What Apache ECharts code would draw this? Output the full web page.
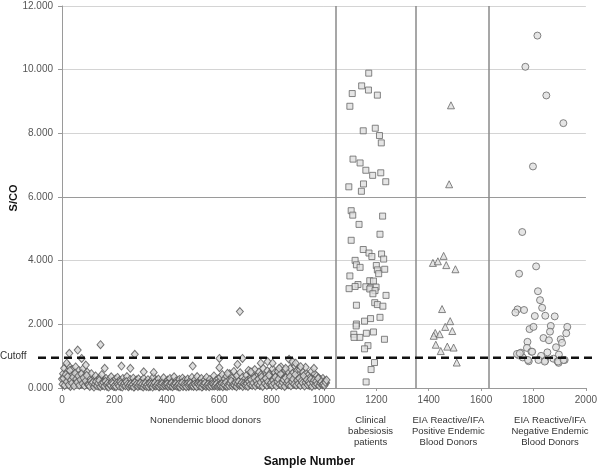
<!DOCTYPE html>
<html>
<head>
<meta charset="utf-8">
<script src="https://cdn.jsdelivr.net/npm/echarts@6/dist/echarts.min.js"></script>
<style>html,body{margin:0;padding:0;background:#fff;}#c{width:600px;height:468px;}</style>
</head>
<body>
<div id="c"></div>
<script>
// ---- data ----
var yTicks = [0, 2, 4, 6, 8, 10, 12];
var xTicks = [0, 200, 400, 600, 800, 1000, 1200, 1400, 1600, 1800, 2000];
var cutoff = 0.95;
var separators = [1044, 1350, 1630];
var groupNames = [
  'Nonendemic blood donors',
  'Clinical\nbabesiosis\npatients',
  'EIA Reactive/IFA\nPositive Endemic\nBlood Donors',
  'EIA Reactive/IFA\nNegative Endemic\nBlood Donors'
];
var groupLabelX = [548, 1178, 1475, 1863];

// nonendemic: readings at sample numbers 0,4,8,... (set A) and 2,6,10,... (set B)
var nonendemicStep = 4;
var nonendemicA = [
  0.28,0.45,0.62,0.18,0.35,0.52,0.71,0.24,0.05,0.40,0.58,0.30,0.15,0.66,0.42,0.22,0.55,0.33,0.12,0.48,0.60,0.26,0.38,0.17,0.50,
  0.20,0.34,0.12,0.45,0.08,0.28,0.16,0.38,0.10,0.25,0.06,0.32,0.18,0.42,0.09,0.22,0.14,0.30,0.05,0.19,0.27,0.11,0.35,0.08,0.21,
  0.15,0.28,0.07,0.33,0.12,0.24,0.05,0.18,0.30,0.10,0.22,0.14,0.36,0.06,0.20,0.27,0.09,0.16,0.31,0.04,0.19,0.25,0.11,0.29,0.08,
  0.17,0.23,0.06,0.30,0.13,0.20,0.08,0.26,0.15,0.05,0.22,0.11,0.34,0.07,0.18,0.24,0.10,0.28,0.04,0.16,0.21,0.09,0.32,0.13,0.19,
  0.08,0.25,0.14,0.30,0.06,0.20,0.12,0.35,0.09,0.22,0.17,0.04,0.27,0.11,0.19,0.31,0.07,0.24,0.15,0.10,0.28,0.05,0.21,0.13,0.33,
  0.18,0.09,0.26,0.14,0.36,0.07,0.22,0.12,0.30,0.05,0.19,0.25,0.10,0.33,0.16,0.08,0.27,0.13,0.21,0.06,0.38,0.15,0.24,0.11,0.29,
  0.20,0.34,0.09,0.42,0.16,0.28,0.06,0.37,0.13,0.24,0.45,0.10,0.31,0.18,0.52,0.08,0.26,0.39,0.14,0.22,0.48,0.11,0.33,0.19,0.27,
  0.15,0.40,0.24,0.55,0.10,0.32,0.46,0.18,0.28,0.58,0.13,0.36,0.22,0.50,0.08,0.42,0.30,0.62,0.16,0.38,0.26,0.54,0.12,0.44,0.34,
  0.20,0.60,0.28,0.48,0.14,0.40,0.52,0.24,0.36,0.66,0.18,0.44,0.30,0.56,0.10,0.38,0.50,0.22,0.62,0.32,0.46,0.16,0.70,0.34,0.54,
  0.26,0.42,0.58,0.18,0.36,0.50,0.12,0.30,0.46,0.22,0.40,0.08,0.34,0.52,0.20,0.28,0.44,0.14,0.38,0.24,0.32,0.10,0.26,0.18,0.30,
  0.12,0.22,0.16
];
var nonendemicB = [
  0.12,0.30,0.08,0.42,0.20,0.36,0.10,0.55,0.25,0.15,0.34,0.06,0.46,0.28,0.18,0.38,0.09,0.26,0.44,0.14,0.32,0.07,0.22,0.40,0.11,
  0.10,0.05,0.22,0.14,0.18,0.03,0.12,0.20,0.07,0.15,0.24,0.04,0.13,0.09,0.17,0.06,0.21,0.11,0.15,0.03,0.12,0.08,0.18,0.14,0.05,
  0.09,0.04,0.16,0.11,0.06,0.19,0.13,0.03,0.10,0.15,0.07,0.20,0.12,0.04,0.09,0.14,0.06,0.11,0.03,0.17,0.08,0.13,0.05,0.10,0.15,
  0.06,0.12,0.03,0.09,0.15,0.05,0.11,0.04,0.14,0.08,0.12,0.03,0.10,0.16,0.06,0.09,0.13,0.04,0.11,0.07,0.14,0.05,0.10,0.08,0.12,
  0.13,0.05,0.10,0.07,0.15,0.04,0.11,0.08,0.14,0.06,0.09,0.12,0.03,0.10,0.16,0.05,0.12,0.08,0.04,0.13,0.07,0.11,0.15,0.06,0.09,
  0.05,0.12,0.08,0.04,0.14,0.10,0.06,0.13,0.03,0.11,0.08,0.15,0.05,0.09,0.12,0.04,0.10,0.07,0.14,0.11,0.06,0.09,0.13,0.05,0.08,
  0.10,0.06,0.14,0.04,0.12,0.08,0.18,0.05,0.11,0.07,0.15,0.22,0.06,0.12,0.09,0.16,0.04,0.13,0.20,0.08,0.11,0.17,0.05,0.14,0.10,
  0.07,0.14,0.05,0.20,0.11,0.26,0.08,0.16,0.32,0.06,0.22,0.12,0.28,0.09,0.18,0.35,0.05,0.24,0.14,0.30,0.08,0.20,0.40,0.11,0.16,
  0.09,0.25,0.14,0.34,0.06,0.20,0.28,0.12,0.44,0.08,0.18,0.26,0.05,0.32,0.15,0.22,0.10,0.36,0.07,0.19,0.28,0.12,0.42,0.09,0.24,
  0.13,0.30,0.08,0.22,0.16,0.38,0.06,0.18,0.26,0.10,0.20,0.14,0.28,0.05,0.17,0.24,0.09,0.21,0.12,0.30,0.07,0.15,0.20,0.10,0.13,
  0.08,0.18,0.25
];
// nonendemic higher readings [sample, S/CO]
var nonendemicHigh = [
  [60,1.19],[28,1.09],[147,1.36],[75,0.93],[278,1.06],[18,0.78],[601,0.93],[689,0.93],[679,2.40],
  [499,0.69],[227,0.69],[261,0.62],[601,0.64],[670,0.74],[632,0.46],[163,0.62],[91,0.72],[312,0.51],
  [350,0.49],[721,0.51],[867,0.90],[880,0.83],[892,0.78],[759,0.78],[785,0.83],[804,0.78],[829,0.62],
  [854,0.62],[930,0.65],[962,0.62],[911,0.67]
];
var clinical = [
  [1171,9.89],[1144,9.49],[1170,9.36],[1108,9.25],[1204,9.20],[1099,8.85],[1150,8.08],[1196,8.16],
  [1212,7.93],[1219,7.70],[1111,7.19],[1138,7.07],[1160,6.84],[1186,6.68],[1217,6.76],[1236,6.48],
  [1095,6.32],[1151,6.41],[1143,6.18],[1104,5.57],[1110,5.43],[1224,5.40],[1134,5.14],[1214,4.83],
  [1104,4.64],[1150,4.35],[1172,4.24],[1183,4.13],[1220,4.21],[1228,4.05],[1119,4.01],[1124,3.87],
  [1138,3.79],[1200,3.85],[1204,3.71],[1232,3.73],[1209,3.59],[1099,3.52],[1175,3.37],[1189,3.36],
  [1130,3.25],[1119,3.19],[1096,3.12],[1160,3.18],[1178,3.15],[1199,3.17],[1175,3.11],[1195,3.06],
  [1187,2.96],[1237,2.91],[1124,2.60],[1194,2.68],[1204,2.62],[1225,2.57],[1214,2.22],[1178,2.18],
  [1155,2.10],[1124,2.01],[1123,1.95],[1114,1.69],[1137,1.59],[1162,1.72],[1189,1.76],[1231,1.53],
  [1115,1.59],[1168,1.33],[1155,1.23],[1193,0.80],[1180,0.58],[1161,0.19]
];
var positiveEndemic = [
  [1485,8.88],[1478,6.40],[1457,4.15],[1416,3.93],[1435,3.98],[1467,3.86],[1502,3.73],[1451,2.48],
  [1482,2.10],[1463,1.92],[1490,1.79],[1425,1.73],[1442,1.69],[1419,1.64],[1427,1.36],[1446,1.16],
  [1471,1.30],[1495,1.27],[1507,0.80]
];
var negativeEndemic = [
  [1815,11.07],[1769,10.09],[1849,9.19],[1914,8.32],[1798,6.96],[1757,4.90],[1745,3.59],[1810,3.82],
  [1817,3.04],[1825,2.76],[1833,2.52],[1739,2.47],[1731,2.37],[1764,2.45],[1805,2.26],[1845,2.27],
  [1881,2.25],[1785,1.85],[1800,1.92],[1866,1.95],[1929,1.92],[1863,1.77],[1838,1.57],[1925,1.72],
  [1859,1.50],[1904,1.53],[1777,1.45],[1909,1.42],[1775,1.26],[1792,1.14],[1886,1.28],[1853,1.12],
  [1752,1.11],[1743,1.03],[1759,0.96],[1829,1.01],[1897,1.05],[1845,0.86],[1876,0.92],[1782,0.84],
  [1892,0.84],[1919,0.88],[1896,0.79],[1819,0.88],[1737,1.07],[1748,1.09],[1779,0.88],[1843,0.83],
  [1894,0.83],[1915,0.88],[1795,1.14]
];

// ---- chart ----
var FONT = '"Liberation Sans", Arial, sans-serif';
var nonendemic = nonendemicA.map(function (v, i) { return [i * nonendemicStep, v]; })
  .concat(nonendemicB.map(function (v, i) { return [i * nonendemicStep + 2, v]; }))
  .concat(nonendemicHigh);
var mk = { color: '#dedede', borderColor: '#666', borderWidth: 1 };
var mkD = { color: '#d6d6d6', borderColor: '#555', borderWidth: 1 };

var chart = echarts.init(document.getElementById('c'), null, { renderer: 'canvas' });
var option = {
  animation: false,
  backgroundColor: '#fff',
  grid: { left: 62, right: 12, top: 6, bottom: 80, containLabel: false },
  xAxis: {
    type: 'value', min: xTicks[0], max: xTicks[xTicks.length - 1], interval: 200,
    axisLine: { lineStyle: { color: '#9a9a9a', width: 1 } },
    axisTick: { show: true, length: 3, lineStyle: { color: '#9a9a9a' } },
    splitLine: { show: false },
    axisLabel: { color: '#555', fontSize: 10, fontFamily: FONT, margin: 7,
      formatter: function (v) { return String(v); } }
  },
  yAxis: {
    type: 'value', min: yTicks[0], max: yTicks[yTicks.length - 1], interval: 2,
    axisLine: { show: true, lineStyle: { color: '#9a9a9a', width: 1 } },
    axisTick: { show: true, length: 4, lineStyle: { color: '#9a9a9a' } },
    splitLine: { show: true, lineStyle: { color: '#d4d4d4', width: 1 } },
    axisLabel: { color: '#555', fontSize: 10, fontFamily: FONT, margin: 9,
      formatter: function (v) { return v.toFixed(3); } }
  },
  series: [
    { type: 'scatter', name: 'Nonendemic', symbol: 'diamond', symbolSize: [7, 8], data: nonendemic, itemStyle: mkD, z: 3,
      markLine: { silent: true, symbol: 'none', label: { show: false },
        lineStyle: { color: '#9a9a9a', width: 1, type: 'solid' },
        data: [{ yAxis: 6 }] } },
    { type: 'scatter', name: 'Clinical', symbol: 'rect', symbolSize: 6, data: clinical, itemStyle: mk, z: 4,
      markLine: { silent: true, symbol: 'none', label: { show: false },
        lineStyle: { color: '#8a8a8a', width: 1.5, type: 'solid' },
        data: separators.map(function (s) { return [{ coord: [s, 0] }, { coord: [s, 12] }]; }) } },
    { type: 'scatter', name: 'Positive', symbol: 'triangle', symbolSize: 7, data: positiveEndemic, itemStyle: mk, z: 4 },
    { type: 'scatter', name: 'Negative', symbol: 'circle', symbolSize: 7, data: negativeEndemic, itemStyle: mk, z: 4 }
  ]
};
chart.setOption(option);

var cy = chart.convertToPixel({ gridIndex: 0 }, [0, cutoff])[1];
var graphics = [
  { type: 'line', z: 10, shape: { x1: 38, y1: cy, x2: 597, y2: cy },
    style: { stroke: '#111', lineWidth: 2.5, lineDash: [8, 5] } },
  { type: 'text', z: 10, left: 0, top: cy - 7,
    style: { text: 'Cutoff', fill: '#333', font: '10px ' + FONT } },
  { type: 'text', z: 10, x: 14, y: 198, rotation: Math.PI / 2,
    style: { text: 'S/CO', fill: '#111', font: 'bold 11px ' + FONT, textAlign: 'center', textVerticalAlign: 'middle' } },
  { type: 'text', z: 10, x: 355, y: 462,
    style: { text: 'Sample Number', fill: '#111', font: 'bold 12px ' + FONT, textAlign: 'right', textVerticalAlign: 'middle' } }
];
groupNames.forEach(function (name, i) {
  var px = chart.convertToPixel({ gridIndex: 0 }, [groupLabelX[i], 0])[0];
  graphics.push({ type: 'text', z: 10, x: px, y: 415,
    style: { text: name, fill: '#333', font: '9.5px ' + FONT, textAlign: 'center', textVerticalAlign: 'top', lineHeight: 11 } });
});
chart.setOption({ graphic: graphics });
</script>
</body>
</html>
